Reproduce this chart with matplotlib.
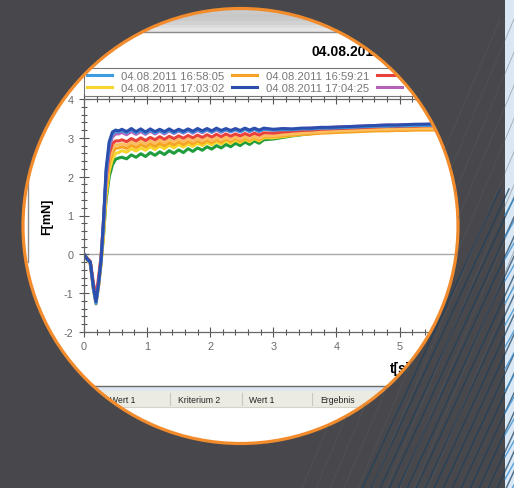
import numpy as np
import matplotlib
matplotlib.use('Agg')
import matplotlib.pyplot as plt
from matplotlib.path import Path
from matplotlib.patches import PathPatch, Circle, Rectangle
from matplotlib.colors import LinearSegmentedColormap
from matplotlib.lines import Line2D

W, H = 514, 489

# time axis [s]
t = [0, 0.05, 0.1, 0.15, 0.19, 0.23, 0.27, 0.31, 0.35, 0.4, 0.45, 0.5, 0.55, 0.6,
     0.675, 0.75, 0.825, 0.9, 0.975, 1.05, 1.125, 1.2, 1.275, 1.35, 1.425, 1.5,
     1.575, 1.65, 1.725, 1.8, 1.875, 1.95, 2.025, 2.1, 2.175, 2.25, 2.325, 2.4,
     2.475, 2.55, 2.625, 2.7, 2.775, 2.85,
     3.0, 3.15, 3.3, 3.45, 3.6, 3.75, 3.9, 4.05, 4.2, 4.35, 4.5, 4.65, 4.8, 4.95,
     5.1, 5.25, 5.4, 5.55, 5.7]

# force [mN] per measurement
f_lightblue = [0, -0.13, -0.22, -0.9, -1.27, -0.8, -0.2, 0.8, 2.1, 2.85, 3.1, 3.17, 3.15, 3.19,
               3.13, 3.21, 3.13, 3.2, 3.12, 3.2, 3.13, 3.19, 3.13, 3.2, 3.13, 3.19, 3.14, 3.2, 3.14,
               3.21, 3.15, 3.21, 3.15, 3.22, 3.16, 3.21, 3.16, 3.21, 3.16, 3.22, 3.17, 3.22, 3.17, 3.22,
               3.2, 3.21, 3.21, 3.23, 3.23, 3.25, 3.25, 3.26, 3.27, 3.28, 3.29, 3.3, 3.3, 3.31,
               3.31, 3.32, 3.32, 3.32, 3.33]
f_yellow = [0, -0.12, -0.22, -0.88, -1.22, -0.82, -0.25, 0.5, 1.5, 2.15, 2.45, 2.6, 2.62, 2.67,
            2.63, 2.72, 2.66, 2.74, 2.68, 2.77, 2.7, 2.79, 2.72, 2.81, 2.74, 2.83, 2.76, 2.84, 2.78,
            2.86, 2.8, 2.88, 2.82, 2.9, 2.84, 2.92, 2.86, 2.94, 2.88, 2.96, 2.9, 2.98, 2.92, 3.0,
            3.0, 3.03, 3.06, 3.09, 3.11, 3.13, 3.15, 3.17, 3.18, 3.19, 3.2, 3.21, 3.22, 3.22,
            3.23, 3.24, 3.24, 3.25, 3.25]
f_orange = [0, -0.14, -0.26, -0.92, -1.28, -0.85, -0.25, 0.6, 1.7, 2.35, 2.62, 2.73, 2.74, 2.77,
            2.73, 2.81, 2.75, 2.83, 2.77, 2.85, 2.78, 2.86, 2.8, 2.88, 2.82, 2.9, 2.83, 2.91, 2.85,
            2.93, 2.86, 2.94, 2.88, 2.96, 2.89, 2.97, 2.91, 2.99, 2.92, 3.0, 2.94, 3.02, 2.95, 3.03,
            3.03, 3.05, 3.07, 3.09, 3.1, 3.12, 3.13, 3.14, 3.15, 3.16, 3.17, 3.18, 3.18, 3.19,
            3.19, 3.2, 3.2, 3.2, 3.21]
f_darkblue = [0, -0.12, -0.2, -0.85, -1.22, -0.75, -0.15, 0.9, 2.2, 2.9, 3.15, 3.2, 3.18, 3.22,
              3.16, 3.24, 3.16, 3.23, 3.15, 3.23, 3.16, 3.22, 3.16, 3.23, 3.16, 3.22, 3.17, 3.23, 3.17,
              3.24, 3.18, 3.24, 3.18, 3.25, 3.19, 3.24, 3.19, 3.24, 3.19, 3.25, 3.2, 3.25, 3.2, 3.25,
              3.22, 3.24, 3.23, 3.25, 3.25, 3.27, 3.27, 3.28, 3.29, 3.3, 3.31, 3.32, 3.33, 3.33,
              3.34, 3.35, 3.35, 3.36, 3.36]
f_red = [0, -0.1, -0.18, -0.75, -1.07, -0.6, -0.05, 0.9, 1.95, 2.6, 2.85, 2.92, 2.92, 2.95,
         2.9, 2.98, 2.92, 3.0, 2.93, 3.01, 2.95, 3.03, 2.96, 3.04, 2.98, 3.05, 2.99, 3.06, 3.0,
         3.07, 3.01, 3.08, 3.02, 3.09, 3.03, 3.1, 3.04, 3.1, 3.05, 3.11, 3.06, 3.12, 3.07, 3.13,
         3.12, 3.15, 3.17, 3.19, 3.2, 3.22, 3.23, 3.24, 3.25, 3.26, 3.27, 3.28, 3.29, 3.29,
         3.3, 3.3, 3.31, 3.31, 3.31]
f_purple = [0, -0.12, -0.2, -0.85, -1.2, -0.72, -0.12, 0.85, 2.05, 2.75, 3.02, 3.1, 3.1, 3.14,
            3.08, 3.16, 3.09, 3.16, 3.09, 3.17, 3.1, 3.17, 3.1, 3.18, 3.11, 3.18, 3.12, 3.19, 3.12,
            3.19, 3.13, 3.2, 3.14, 3.2, 3.14, 3.21, 3.15, 3.21, 3.15, 3.22, 3.16, 3.22, 3.16, 3.23,
            3.2, 3.22, 3.22, 3.24, 3.25, 3.26, 3.27, 3.28, 3.29, 3.3, 3.31, 3.32, 3.33, 3.33,
            3.34, 3.34, 3.35, 3.35, 3.35]
f_green = [0, -0.1, -0.2, -0.85, -1.18, -0.78, -0.2, 0.5, 1.4, 2.0, 2.3, 2.45, 2.48, 2.5,
           2.46, 2.56, 2.5, 2.59, 2.52, 2.62, 2.55, 2.64, 2.57, 2.67, 2.6, 2.69, 2.62, 2.72, 2.65,
           2.74, 2.68, 2.77, 2.71, 2.8, 2.74, 2.83, 2.77, 2.86, 2.8, 2.89, 2.83, 2.92, 2.86, 2.95,
           2.97, 3.01, 3.05, 3.08, 3.11, 3.14, 3.16, 3.18, 3.2, 3.22, 3.23, 3.24, 3.25, 3.26,
           3.27, 3.27, 3.28, 3.28, 3.29]
f_peach = [0, -0.14, -0.25, -0.9, -1.25, -0.8, -0.2, 0.7, 1.8, 2.45, 2.72, 2.82, 2.82, 2.85,
           2.81, 2.89, 2.83, 2.91, 2.84, 2.92, 2.86, 2.94, 2.87, 2.95, 2.89, 2.96, 2.9, 2.97, 2.91,
           2.98, 2.92, 2.99, 2.93, 3.0, 2.94, 3.01, 2.95, 3.02, 2.96, 3.03, 2.97, 3.04, 2.98, 3.05,
           3.05, 3.08, 3.1, 3.12, 3.14, 3.15, 3.17, 3.18, 3.19, 3.2, 3.21, 3.22, 3.22, 3.23,
           3.23, 3.24, 3.24, 3.24, 3.25]

# legend order (column-wise, 2 rows); the last two lines have no visible legend entry
series = [f_lightblue, f_yellow, f_orange, f_darkblue, f_red, f_purple, f_green, f_peach]
labels = ['04.08.2011 16:58:05', '04.08.2011 17:03:02',
          '04.08.2011 16:59:21', '04.08.2011 17:04:25',
          '04.08.2011 17:00:37', '04.08.2011 17:05:41']
colors = ['#3d9be0', '#f7d52c', '#f6a323', '#2c4fae', '#e8423a', '#b462b8', '#1f9c3c', '#fbbd5e']
draw_order = [6, 1, 2, 7, 4, 5, 0, 3]

table_cols = ['Wert 1', 'Kriterium 2', 'Wert 1', 'Ergebnis']
table_x = [110, 178, 249, 320]
table_sep = [170, 242, 312]

plt.rcParams['font.family'] = ['Liberation Sans', 'DejaVu Sans']
plt.rcParams['axes.unicode_minus'] = False

fig = plt.figure(figsize=(W / 100, H / 100), dpi=100)
fig.patch.set_facecolor('white')

# ---- screenshot content (pixel coords) ----
base = fig.add_axes([0, 0, 1, 1], zorder=0)
bar = np.array([0.88, 0.85, 0.82, 0.79, 0.78, 0.79, 0.82, 0.86, 0.9]).reshape(-1, 1)
base.imshow(bar, extent=(0, W, 33, 0), cmap='gray', vmin=0, vmax=1, aspect='auto')
base.plot([0, W], [33, 33], color='#8a8a8a', lw=1)
base.text(311, 52, '04.08.2011', fontsize=10, fontweight='bold', va='center', ha='left')
base.plot([28, 28], [182, 263], color='#8c8c8c', lw=1)
base.plot([0, W], [386.5, 386.5], color='#6a6a6a', lw=1)
base.add_patch(Rectangle((0, 388), W, 4, facecolor='#dfe5ef', edgecolor='none'))
base.add_patch(Rectangle((0, 392), W, 16, facecolor='#ecebe2', edgecolor='none'))
base.plot([0, W], [408, 408], color='#d4d3cb', lw=0.8)
for xs in table_sep:
    base.plot([xs, xs], [394, 406], color='#c9c8c0', lw=0.8)
for xs, name in zip(table_x, table_cols):
    base.text(xs, 400.5, name, fontsize=6.2, color='#222222', va='center', ha='left')
base.text(390, 369, 't[s]', fontsize=10, fontweight='bold', va='center', ha='left')
base.text(47, 217, 'F[mN]', fontsize=9, fontweight='bold', va='center', ha='center',
          rotation=90)
base.set_xlim(0, W)
base.set_ylim(H, 0)
base.axis('off')

# ---- chart ----
px_per_s = 63.1
ax = fig.add_axes([84 / W, 1 - 333 / H, (480 - 84) / W, (333 - 100) / H], zorder=1)
ax.set_facecolor('none')
ax.axhline(0, color='#a9a9a9', lw=1, zorder=1)
for i in draw_order:
    ax.plot(t, series[i], color=colors[i], lw=2.2, zorder=2)
ax.set_xlim(0, (480 - 84) / px_per_s)
ax.set_ylim(-2, 4)
ax.set_xticks(range(0, 7))
ax.set_yticks(range(-2, 5))
ax.set_xticks(np.arange(0, 6.3, 0.2), minor=True)
ax.set_yticks(np.arange(-2, 4.01, 0.2), minor=True)
ax.tick_params(which='both', direction='inout', color='#555555', width=0.8,
               top=True, labelsize=7.8, labelcolor='#6a6a6a')
ax.tick_params(which='major', length=7, pad=3)
ax.tick_params(which='minor', length=4)
ax.tick_params(axis='y', pad=4)
for s in ['left', 'bottom', 'top']:
    ax.spines[s].set_color('#666666')
    ax.spines[s].set_linewidth(0.9)
ax.spines['right'].set_visible(False)

handles = [Line2D([], [], color=c, lw=2.2) for c in colors[:len(labels)]]
leg = ax.legend(handles, labels, loc='upper left', bbox_to_anchor=(84 / W, 1 - 69 / H),
                bbox_transform=fig.transFigure, ncol=3, fontsize=8.1, frameon=True,
                fancybox=False, edgecolor='#555555', borderaxespad=0, borderpad=0.3,
                handlelength=2.2, handletextpad=0.75, columnspacing=0.75, labelspacing=0.15)
leg.get_frame().set_linewidth(0.8)
for txt in leg.get_texts():
    txt.set_color('#777777')

# ---- surrounding frame with circular window ----
cx, cy, r = 240.5, 227, 217.5
ov = fig.add_axes([0, 0, 1, 1], zorder=10)
ov.set_facecolor('none')
ang = np.linspace(0, 2 * np.pi, 400)
rect_v = [(0, 0), (0, H), (W, H), (W, 0), (0, 0)]
circ_v = list(zip(cx + r * np.cos(ang), cy + r * np.sin(ang)))
verts = rect_v + circ_v
codes = [Path.MOVETO] + [Path.LINETO] * 3 + [Path.CLOSEPOLY] + \
        [Path.MOVETO] + [Path.LINETO] * (len(circ_v) - 2) + [Path.CLOSEPOLY]
mask = PathPatch(Path(verts, codes), facecolor='#48484c', edgecolor='none')
ov.add_patch(mask)

cmap = LinearSegmentedColormap.from_list('bg', ['#4a4a4e', '#47484d', '#3d4550'])
gx, gy = np.meshgrid(np.linspace(0, 1, 60), np.linspace(0, 1, 60))
im = ov.imshow(0.6 * gx + 0.4 * gy, extent=(0, W, H, 0), cmap=cmap, aspect='auto')
im.set_clip_path(mask)

for k in range(18):
    x0 = 360 + k * 9
    ln, = ov.plot([x0, x0 + 140], [H + 5, 190], color='#1d3f5c', lw=1.1, alpha=0.7)
    ln.set_clip_path(mask)
for k in range(10):
    x0 = 300 + k * 14
    ln, = ov.plot([x0, x0 + 200], [H + 5, 20], color='#5a5d64', lw=0.6, alpha=0.45)
    ln.set_clip_path(mask)

ov.add_patch(Rectangle((505, 0), 9, H, facecolor='#d9e8f4', edgecolor='none'))
for k in range(14):
    y0 = 200 + k * 22
    ov.plot([505, 514], [y0 + 16, y0], color='#3b8fd0', lw=1, alpha=0.8)

ov.add_patch(Circle((cx, cy), r, fill=False, edgecolor='#f28b2c', lw=2.3))
ov.set_xlim(0, W)
ov.set_ylim(H, 0)
ov.axis('off')

fig.savefig('out.png', dpi=100)
